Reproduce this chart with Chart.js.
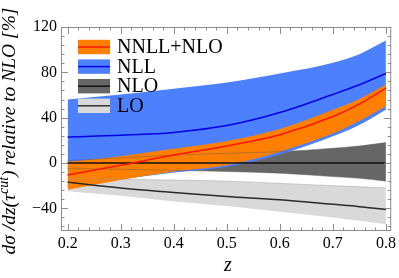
<!DOCTYPE html>
<html>
<head>
<meta charset="utf-8">
<script src="https://cdn.jsdelivr.net/npm/chart.js@4.4.1/dist/chart.umd.min.js"></script>
<style>
  body { margin: 0; background: #fff; }
  #wrap { width: 399px; height: 278px; position: relative; }
</style>
</head>
<body>
<div id="wrap"><canvas id="chart"></canvas></div>
<script>
// values, in % relative to NLO
const zValues     = [0.2, 0.3, 0.4, 0.5, 0.6, 0.7, 0.75, 0.8];

const nnllUpper   = [1, 6, 12.5, 19.5, 30, 47, 56.5, 69];
const nnllCentral = [-10.5, -2, 7, 15, 25, 41, 52, 66];
const nnllLower   = [-23.7, -15, -7.5, -2, 10, 26, 37, 50];

const nllUpper    = [56, 60.5, 65.5, 71, 79, 88.5, 96, 108];
const nllCentral  = [23, 24.5, 27, 33, 44.5, 60.5, 69, 79];
const nllLower    = [-20, -14, -8, -3, 8, 24, 34, 47.5];

const nloUpper    = [2, 4.5, 7, 8.5, 10, 13, 15, 18];
const nloCentral  = [0, 0, 0, 0, 0, 0, 0, 0];
const nloLower    = [-5, -5.5, -6.5, -7.5, -9, -12, -13.5, -16];

const loUpper     = [-14, -14.5, -15, -16, -18, -20, -21, -22];
const loCentral   = [-17, -22, -26, -29.5, -32.5, -36.5, -38.5, -41];
const loLower     = [-25, -29, -34, -38, -43, -48, -51, -54];

const legendLabels = ["NNLL+NLO", "NLL", "NLO", "LO"];
const xTicks = [0.2, 0.3, 0.4, 0.5, 0.6, 0.7, 0.8];
const yTicks = [-40, 0, 40, 80, 120];

const ORANGE = "#ff7f00", RED = "#ff1500";
const BLUE_BAND = "#4d80ff", BLUE_LINE = "#0000e6";
const DARK = "#666666", LIGHT = "#d9d9d9";
const SERIF = "'Liberation Serif', 'DejaVu Serif', serif";

function pts(ys) {
    return zValues.map((z, i) => ({ x: z, y: ys[i] }));
}

function band(ys, color, order, fill, border) {
    return {
        data: pts(ys),
        backgroundColor: color,
        borderColor: border || "rgba(0,0,0,0)",
        borderWidth: border ? 1 : 0,
        fill: fill ? "+1" : false,
        order: order
    };
}

function line(ys, color, width, order) {
    return {
        data: pts(ys),
        borderColor: color,
        borderWidth: width,
        fill: false,
        order: order
    };
}

// frame with inward ticks on all four sides
const framePlugin = {
    id: "frame",
    afterDatasetsDraw(chart) {
        const ctx = chart.ctx, a = chart.chartArea;
        const xs = chart.scales.x, ys = chart.scales.y;
        ctx.save();
        ctx.strokeStyle = "#8c8c8c";
        ctx.lineWidth = 1;
        ctx.strokeRect(a.left + 0.5, a.top + 0.5, a.right - a.left - 1, a.bottom - a.top - 1);
        ctx.beginPath();
        for (let k = 10; k <= 40; k++) {
            const v = k * 0.02;
            const len = (k % 5 === 0) ? 7 : 3.5;
            const px = Math.round(xs.getPixelForValue(v)) + 0.5;
            ctx.moveTo(px, a.bottom); ctx.lineTo(px, a.bottom - len);
            ctx.moveTo(px, a.top); ctx.lineTo(px, a.top + len);
        }
        for (let v = -56; v <= 120; v += 8) {
            const len = (v % 40 === 0) ? 7 : 3.5;
            const py = Math.round(ys.getPixelForValue(v)) + 0.5;
            ctx.moveTo(a.left, py); ctx.lineTo(a.left + len, py);
            ctx.moveTo(a.right, py); ctx.lineTo(a.right - len, py);
        }
        ctx.stroke();
        ctx.restore();
    }
};

const legendPlugin = {
    id: "bandLegend",
    afterDraw(chart) {
        const ctx = chart.ctx;
        const fills = [ORANGE, BLUE_BAND, DARK, LIGHT];
        const lines = [RED, BLUE_LINE, "#111", "#333"];
        ctx.save();
        legendLabels.forEach((lab, i) => {
            const cy = 47 + i * 19.6;
            ctx.fillStyle = fills[i];
            ctx.fillRect(78, cy - 7.2, 32, 14.4);
            ctx.strokeStyle = lines[i];
            ctx.lineWidth = 1.5;
            ctx.beginPath(); ctx.moveTo(78, cy); ctx.lineTo(110, cy); ctx.stroke();
            ctx.fillStyle = "#000";
            ctx.font = "20px " + SERIF;
            ctx.textBaseline = "middle";
            ctx.fillText(lab, 117, cy + 1);
        });
        ctx.restore();
    }
};

const titlePlugin = {
    id: "axisTitles",
    afterDraw(chart) {
        const ctx = chart.ctx;
        ctx.save();
        ctx.fillStyle = "#000";
        // x title
        ctx.font = "italic 20px " + SERIF;
        ctx.textAlign = "center";
        ctx.textBaseline = "middle";
        ctx.fillText("z", 228, 266);
        // y title, rotated
        const size = 19.5;
        const big = "italic " + size + "px " + SERIF;
        const small = "italic " + Math.round(size * 0.7) + "px " + SERIF;
        const parts = [
            { t: "dσ /dz(τ", f: big, dy: 0 },
            { t: "cut", f: small, dy: -size * 0.38 },
            { t: ") relative to NLO [%]", f: big, dy: 0 }
        ];
        let total = 0;
        parts.forEach(p => { ctx.font = p.f; p.w = ctx.measureText(p.t).width; total += p.w; });
        ctx.translate(15, 131);
        ctx.rotate(-Math.PI / 2);
        ctx.textAlign = "left";
        ctx.textBaseline = "alphabetic";
        let x = -total / 2;
        parts.forEach(p => { ctx.font = p.f; ctx.fillText(p.t, x, p.dy); x += p.w; });
        ctx.restore();
    }
};

Chart.defaults.font.family = SERIF;
Chart.defaults.animation = false;

new Chart(document.getElementById("chart"), {
    type: "line",
    data: {
        datasets: [
            band(loUpper, LIGHT, 30, true),
            band(loLower, LIGHT, 29, false),
            band(nloUpper, DARK, 28, true),
            band(nloLower, DARK, 27, false),
            band(nllUpper, BLUE_BAND, 26, true),
            band(nllLower, BLUE_BAND, 25, false, BLUE_BAND),
            band(nnllUpper, ORANGE, 24, true),
            band(nnllLower, ORANGE, 23, false),
            line(nloUpper, "rgba(90,90,90,0.45)", 1, 20),
            line(nloLower, "rgba(90,90,90,0.45)", 1, 20),
            line(loUpper, "rgba(150,150,150,0.45)", 1, 20),
            line(nllCentral, BLUE_LINE, 1.5, 5),
            line(loCentral, "#2a2a2a", 1.5, 4),
            line(nloCentral, "#111", 1.5, 4),
            line(nnllCentral, RED, 1.5, 3)
        ]
    },
    options: {
        responsive: true,
        maintainAspectRatio: false,
        layout: { padding: { left: 0, top: 27, right: 6.3, bottom: 0 } },
        elements: {
            point: { radius: 0, hoverRadius: 0 },
            line: { cubicInterpolationMode: "monotone" }
        },
        plugins: {
            legend: { display: false },
            tooltip: { enabled: false }
        },
        scales: {
            x: {
                type: "linear",
                min: 0.1875,
                max: 0.81,
                grid: { display: false, drawTicks: false },
                border: { display: false },
                afterBuildTicks: s => { s.ticks = xTicks.map(v => ({ value: v })); },
                afterFit: s => { s.height = 47; },
                ticks: {
                    padding: 3,
                    color: "#000",
                    font: { size: 16, family: SERIF },
                    maxRotation: 0,
                    callback: v => v.toFixed(1)
                }
            },
            y: {
                min: -60,
                max: 120,
                grid: { display: false, drawTicks: false },
                border: { display: false },
                afterBuildTicks: s => { s.ticks = yTicks.map(v => ({ value: v })); },
                afterFit: s => { s.width = 61; },
                ticks: {
                    padding: 4,
                    color: "#000",
                    font: { size: 16, family: SERIF },
                    callback: v => v < 0 ? "\u2212" + Math.abs(v) : String(v)
                }
            }
        }
    },
    plugins: [framePlugin, legendPlugin, titlePlugin]
});
</script>
</body>
</html>
